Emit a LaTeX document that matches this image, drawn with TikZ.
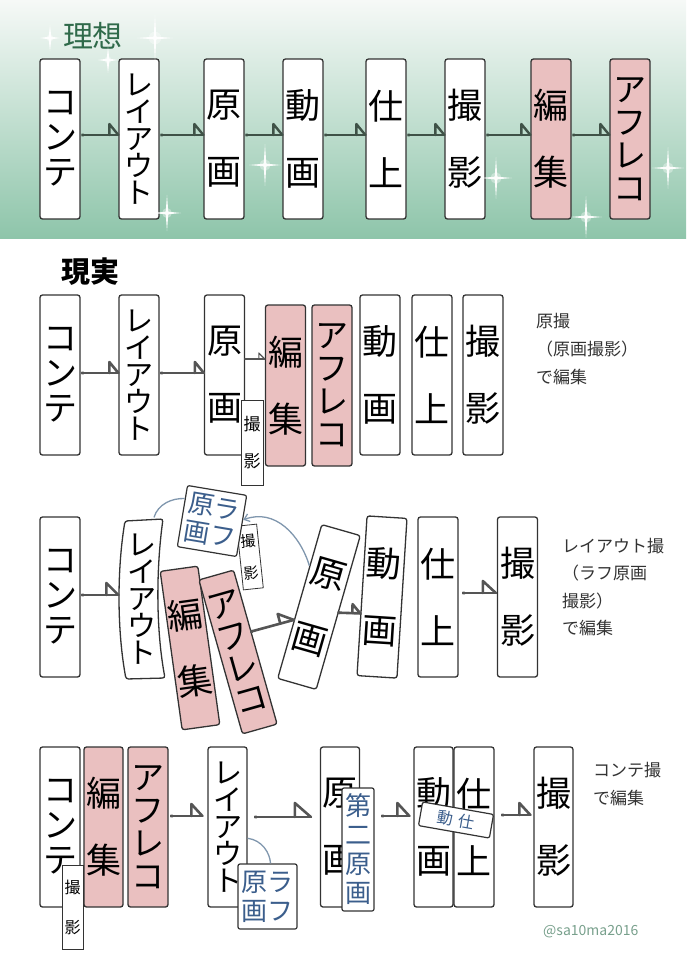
\documentclass[tikz,border=0pt]{standalone}
\usepackage{fontspec}
\newfontfamily\jp{Noto Sans CJK JP}
\usetikzlibrary{calc,arrows.meta}
\definecolor{boxline}{HTML}{333333}
\definecolor{pinkf}{RGB}{234,192,192}
\definecolor{blueT}{HTML}{3B5E8C}
\definecolor{curveC}{HTML}{8097AE}
\definecolor{lnA}{HTML}{3F5247}
\definecolor{lnB}{HTML}{555555}
\definecolor{titleG}{HTML}{2F6A4A}
\definecolor{sideT}{HTML}{333333}
\definecolor{wmark}{RGB}{120,160,140}
\definecolor{gTop}{RGB}{246,249,247}
\definecolor{gBot}{RGB}{142,197,170}
\tikzset{
 box/.style={draw=boxline, line width=1.3pt, rounded corners=2.5pt, fill=white, minimum width=40pt, minimum height=160pt, inner sep=0pt, align=center, text=black},
 pinkbox/.style={box, fill=pinkf},
 t2/.style={font=\jp\fontsize{35}{67}\selectfont},
 t3/.style={font=\jp\fontsize{34}{35}\selectfont},
 t4/.style={font=\jp\fontsize{33}{33}\selectfont},
 t5/.style={font=\jp\fontsize{29}{27}\selectfont},
 smallbox/.style={draw=boxline, line width=0.8pt, fill=white, inner sep=0pt, align=center, font=\jp\fontsize{16}{38}\selectfont},
 bluebox/.style={draw=boxline, line width=1.2pt, rounded corners=2pt, fill=white, inner sep=0pt, align=center, text=blueT},
 ln/.style={draw=lnB, line width=2.6pt, line cap=round, line join=round},
 lnA/.style={draw=lnA, line width=2.4pt, line cap=round, line join=round},
 lnthin/.style={draw=lnB, line width=1.2pt, line cap=round, line join=round},
 sidetext/.style={font=\jp\fontsize{17}{28}\selectfont, text=sideT, align=left, anchor=north west, inner sep=0pt},
 blcurve/.style={draw=curveC, line width=1.3pt},
}
% #1 style, #2 start, #3 end, #4 flag width, #5 flag height
\newcommand\flow[5][ln]{%
 \path #3 coordinate (fE) #2 coordinate (fS);
 \path ($(fE)!#4!(fS)$) coordinate (fB);
 \path ($(fB)!#5!90:(fE)$) coordinate (fT);
 \draw[#1] (fS) circle (0.5);
 \draw[#1] (fS) -- (fE);
 \draw[#1] (fB) -- (fT) -- (fE);
}
\newcommand\sparkle[3]{%
 \begin{scope}[shift={(#1,#2)}]
  \fill[white,opacity=.35] (0,0) circle (#3*0.35);
  \fill[white,opacity=.95] (#3,0) -- (1.3,1.3) -- (0,#3*1.3) -- (-1.3,1.3) -- (-#3,0) -- (-1.3,-1.3) -- (0,-#3*1.3) -- (1.3,-1.3) -- cycle;
 \end{scope}}
\begin{document}
\begin{tikzpicture}[x=1pt,y=-1pt]
\useasboundingbox (0,0) rectangle (686,970);
\fill[white] (0,0) rectangle (686,970);
\shade[top color=gTop, bottom color=gBot] (0,0) rectangle (686,238);

% ===== 理想 =====
\node[font=\jp\fontsize{30}{30}\selectfont, text=titleG] (ttl1) at (93,36) {理想};
\node[box,t3] (i1) at (60,139) {コ\\ン\\テ};
\node[box,t5] (i2) at (139,139) {レ\\イ\\ア\\ウ\\ト};
\node[box,t2] (i3) at (224,139) {原\\画};
\node[box,t2] (i4) at (303,139) {動\\画};
\node[box,t2] (i5) at (386,139) {仕\\上};
\node[box,t2] (i6) at (465,139) {撮\\影};
\node[pinkbox,t2] (i7) at (551,139) {編\\集};
\node[pinkbox,t4] (i8) at (630,139) {ア\\フ\\レ\\コ};
\flow[lnA]{($(i1.east)+(2,-4)$)}{($(i2.west)+(0,-4)$)}{9pt}{11pt}
\flow[lnA]{($(i2.east)+(2,-4)$)}{($(i3.west)+(0,-4)$)}{9pt}{11pt}
\flow[lnA]{($(i3.east)+(2,-4)$)}{($(i4.west)+(0,-4)$)}{9pt}{11pt}
\flow[lnA]{($(i4.east)+(2,-4)$)}{($(i5.west)+(0,-4)$)}{9pt}{11pt}
\flow[lnA]{($(i5.east)+(2,-4)$)}{($(i6.west)+(0,-4)$)}{9pt}{11pt}
\flow[lnA]{($(i6.east)+(2,-4)$)}{($(i7.west)+(0,-4)$)}{9pt}{11pt}
\flow[lnA]{($(i7.east)+(2,-4)$)}{($(i8.west)+(0,-4)$)}{9pt}{11pt}
\sparkle{50}{38}{10}
\sparkle{155}{38}{18}
\sparkle{108}{60}{10}
\sparkle{265}{165}{16}
\sparkle{167}{213}{14}
\sparkle{496}{178}{16}
\sparkle{586}{217}{16}
\sparkle{668}{168}{16}

% ===== 現実 1 =====
\node[font=\jp\bfseries\fontsize{29}{30}\selectfont] (ttl2) at (90,272) {現実};
\node[box,t3] (r1) at (60,375) {コ\\ン\\テ};
\node[box,t5] (r2) at (139,375) {レ\\イ\\ア\\ウ\\ト};
\node[box,t2] (r3) at (224.5,375) {原\\画};
\node[smallbox, minimum width=22pt, minimum height=85pt, font=\jp\fontsize{17}{37}\selectfont] (r3s) at (252,442.5) {撮\\影};
\node[pinkbox,t2,minimum height=161pt] (r4) at (285.5,385.5) {編\\集};
\node[pinkbox,t4,minimum height=161pt] (r5) at (332,385.5) {ア\\フ\\レ\\コ};
\node[box,t2] (r6) at (380,375) {動\\画};
\node[box,t2] (r7) at (432,375) {仕\\上};
\node[box,t2] (r8) at (483,375) {撮\\影};
\flow{($(r1.east)+(2,-2)$)}{($(r2.west)+(0,-2)$)}{9pt}{11pt}
\flow{($(r2.east)+(2,-2)$)}{($(r3.west)+(0,-2)$)}{9pt}{11pt}
\flow[lnthin]{($(r3.east)+(0,-16)$)}{($(r3.east -| r4.west)+(0,-16)$)}{6pt}{6pt}
\node[sidetext] (n2) at (536,313) {原撮\\（原画撮影）\\で編集};

% ===== 現実 2 =====
\node[box,t3] (s1) at (60,597) {コ\\ン\\テ};
\filldraw[fill=white, draw=boxline, line width=1.3pt, rounded corners=2.5pt] (125,521) .. controls (117,570) and (117,630) .. (126,679) -- (165,678) .. controls (156,630) and (156,570) .. (163,519) -- cycle;
\node[box,t5,draw=none,fill=none] (s2) at (142,599) {レ\\イ\\ア\\ウ\\ト};
\node[smallbox, minimum width=20pt, minimum height=64pt, rotate=6, font=\jp\fontsize{15}{32}\selectfont] (s3s) at (250,557) {撮\\影};
\node[bluebox, minimum width=60pt, minimum height=62pt, rotate=-9.5, font=\jp\fontsize{26}{28}\selectfont] (s3r) at (212,521) {原ラ\\画フ};
\node[pinkbox,t2, minimum width=38pt, rotate=7.9] (s4) at (190,648) {編\\集};
\node[pinkbox,t4, minimum width=36pt, rotate=15.8] (s5) at (238,652) {ア\\フ\\レ\\コ};
\node[box,t2,rotate=-16] (s6) at (319,607) {原\\画};
\node[box,t2,rotate=-3.6] (s7) at (382,597) {動\\画};
\node[box,t2] (s8) at (438,597) {仕\\上};
\node[box,t2] (s9) at (517.5,597) {撮\\影};
\flow{($(s1.east)+(2,-2)$)}{($(s2.west)+(-3,-4)$)}{12pt}{12pt}
\flow{($(s5.north east)!0.4!(s5.south east)$)}{($(s6.north west)!0.62!(s6.south west)$)}{14pt}{10pt}
\flow{($(s6.north east)!0.5!(s6.south east)$)}{($(s7.north west)!0.61!(s7.south west)$)}{8pt}{9pt}
\flow{($(s8.east)+(5,-4)$)}{($(s9.west)+(-1,-4)$)}{13pt}{12pt}
\draw[blcurve] ($(s2.north)+(12,-1)$) .. controls (158,504) and (172,498) .. (s3r.150);
\draw[blcurve, -{Straight Barb[length=5pt,width=8pt]}] ($(s6.north west)!0.27!(s6.south west)$) .. controls (300,535) and (275,508) .. ($(s3r.north east)!0.4!(s3r.south east)$);
\node[sidetext, font=\jp\fontsize{17}{27.5}\selectfont] (n3) at (562,538) {レイアウト撮\\（ラフ原画\\撮影）\\で編集};

% ===== 現実 3 =====
\node[box,t3] (u1) at (60,827) {コ\\ン\\テ};
\node[smallbox, minimum width=21pt, minimum height=84pt, font=\jp\fontsize{16}{40}\selectfont] (u1s) at (72.5,907) {撮\\影};
\node[pinkbox,t2,minimum width=39pt] (u2) at (103.5,827) {編\\集};
\node[pinkbox,t4] (u3) at (148,827) {ア\\フ\\レ\\コ};
\node[box,t5,minimum width=39pt] (u4) at (227.5,827) {レ\\イ\\ア\\ウ\\ト};
\node[bluebox, minimum width=59pt, minimum height=65pt, font=\jp\fontsize{26}{29}\selectfont] (u4r) at (267.5,896.5) {原ラ\\画フ};
\node[box,t2,minimum width=39pt] (u5) at (340,827) {原\\画};
\node[bluebox, minimum width=32pt, minimum height=123pt, font=\jp\fontsize{26}{29}\selectfont] (u5d) at (358,849.5) {第\\二\\原\\画};
\node[box,t2,minimum width=39pt] (u6) at (433.5,827) {動\\画};
\node[box,t2] (u7) at (474,827) {仕\\上};
\node[bluebox, minimum width=72pt, minimum height=24pt, rotate=-10, font=\jp\fontsize{16}{18}\selectfont] (u7d) at (456,820) {動\hspace{6pt}仕};
\node[box,t2,minimum width=39pt] (u8) at (553.5,827) {撮\\影};
\flow{($(u3.east)+(3,-11)$)}{($(u4.west)+(-5,-11)$)}{11pt}{12pt}
\flow{($(u4.east)+(8,-10)$)}{($(u5.west)+(-9,-10)$)}{16pt}{14pt}
\flow{($(u5d.east |- u6.west)+(8,-11)$)}{($(u6.west)+(-4,-11)$)}{12pt}{13pt}
\flow{($(u7.east)+(8,-12)$)}{($(u8.west)+(-3,-12)$)}{11pt}{12pt}
\draw[blcurve] ($(u4.north east)!0.57!(u4.south east)$) .. controls (262,840) and (270,853) .. ($(u4r.north west)!0.55!(u4r.north east)$);
\node[sidetext] (n4) at (593,762) {コンテ撮\\で編集};
\node[font=\jp\fontsize{14}{16}\selectfont, text=wmark, anchor=west, inner sep=0pt] (wm) at (543,932) {@sa10ma2016};
\end{tikzpicture}
\end{document}
